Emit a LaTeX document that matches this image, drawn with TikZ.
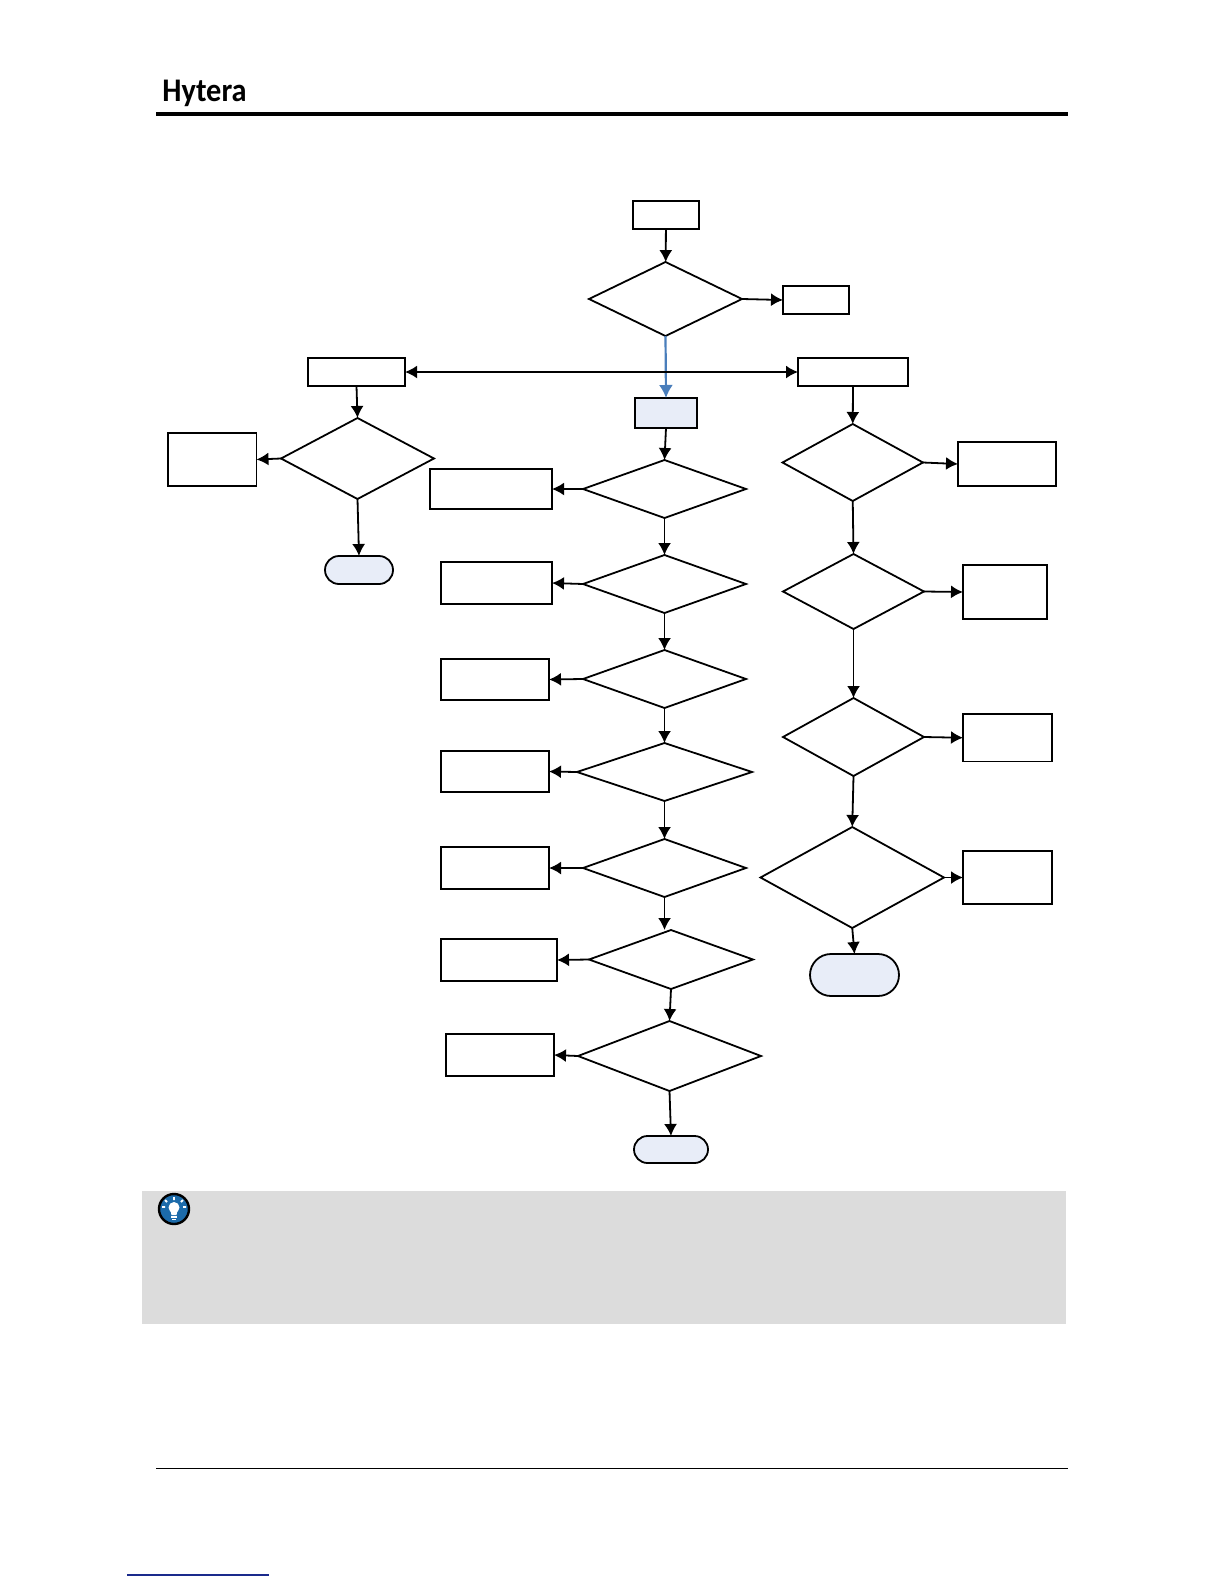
\documentclass[tikz,border=0pt]{standalone}
\usepackage{fontspec}
\setmainfont{Carlito}
\usetikzlibrary{arrows.meta,shapes.geometric,shapes.misc}
\definecolor{fillblue}{HTML}{E8EDF8}
\definecolor{arrowblue}{HTML}{4A7EBB}
\definecolor{panelgrey}{HTML}{DCDCDC}
\definecolor{iconblue}{HTML}{1C6BAA}
\definecolor{linknavy}{HTML}{1A2A8C}
\tikzset{
  boxshape/.style={rectangle,draw=black,line width=0.9pt,inner sep=0pt,outer sep=0pt},
  bluebox/.style={boxshape,fill=fillblue},
  diashape/.style={diamond,draw=black,line width=0.9pt,inner sep=0pt,outer sep=0pt},
  pillshape/.style={rounded rectangle,draw=black,line width=0.9pt,fill=fillblue,inner sep=0pt,outer sep=0pt},
  flow/.style={line width=0.9pt,-{Latex[length=6pt,width=6.5pt]}},
  flowboth/.style={line width=0.9pt,{Latex[length=6pt,width=6.5pt]}-{Latex[length=6pt,width=6.5pt]}},
  flowblue/.style={line width=1.1pt,draw=arrowblue,-{Latex[length=6.5pt,width=7pt,fill=arrowblue]}},
  panelshape/.style={rectangle,fill=panelgrey,inner sep=0pt,outer sep=0pt}
}
% #1 style, #2 name, #3 x1, #4 y1, #5 x2, #6 y2 (page pixels)
\newcommand{\placed}[6]{%
  \pgfmathsetmacro{\pw}{(#5-#3)*0.5}%
  \pgfmathsetmacro{\ph}{(#6-#4)*0.5}%
  \node[#1,minimum width=\pw pt,minimum height=\ph pt] (#2) at ({(#3+#5)/2},{(#4+#6)/2}) {};%
}
\begin{document}
\begin{tikzpicture}[x=0.5pt,y=-0.5pt]
\useasboundingbox (0,0) rectangle (1224,1584);

% header and footer
\node[anchor=base west,inner sep=0pt,xscale=0.92,font=\fontsize{16.5}{16.5}\selectfont\bfseries] (brand) at (162,101.5) {Hytera};
\draw[line width=1.6pt] (156,114) -- (1068,114);
\draw[line width=0.7pt] (156,1468.5) -- (1068,1468.5);
\draw[line width=0.7pt,linknavy] (127,1575) -- (269,1575);

% tip panel
\placed{panelshape}{tip}{142}{1191}{1066}{1323.5}
\fill[iconblue,draw=black,line width=1.2pt] (174,1209) circle (15);
\fill[white] (174,1207.5) circle (5.5);
\fill[white] (170.5,1210) -- (177.5,1210) -- (176.5,1215) -- (171.5,1215) -- cycle;
\fill[white] (171,1216) rectangle (177,1217.5);
\fill[white] (172,1218.5) rectangle (176,1220);
\draw[white,line width=0.9pt] (174,1197) -- (174,1200)
  (165,1200) -- (167,1202) (183,1200) -- (181,1202)
  (162,1207) -- (165,1207) (186,1207) -- (183,1207);

% main column
\placed{boxshape}{start}{633}{201}{699}{229}
\placed{diashape}{dtop}{589}{262}{742}{336}
\placed{boxshape}{btop}{783}{286}{849}{314}
\placed{boxshape}{bleft}{308}{358}{405}{386}
\placed{boxshape}{bright}{798}{358}{908}{386}
\placed{bluebox}{bcen}{635}{398}{697}{428}

\placed{diashape}{ca}{583}{460}{746}{518}
\placed{boxshape}{cab}{430}{469}{552}{509}
\placed{diashape}{cb}{583}{555}{746}{613}
\placed{boxshape}{cbb}{441}{562}{552}{604}
\placed{diashape}{cc}{583}{650}{746}{708}
\placed{boxshape}{ccb}{441}{659}{549}{700}
\placed{diashape}{cd}{577}{743}{752}{801}
\placed{boxshape}{cdb}{441}{751}{549}{792}
\placed{diashape}{ce}{583}{839}{746}{897}
\placed{boxshape}{ceb}{441}{847}{549}{889}
\placed{diashape}{cf}{589}{930}{753}{989}
\placed{boxshape}{cfb}{441}{939}{557}{981}
\placed{diashape}{cg}{578}{1021}{761}{1091}
\placed{boxshape}{cgb}{446}{1034}{554}{1076}
\placed{pillshape}{cend}{634}{1136}{708}{1163}

% left column
\placed{diashape}{la}{281}{418}{434}{499}
\placed{boxshape}{lab}{168}{433}{256.5}{486}
\placed{pillshape}{lend}{325}{556}{393}{584}

% right column
\placed{diashape}{ra}{782.5}{424}{923}{501}
\placed{boxshape}{rab}{958}{442}{1056}{486}
\placed{diashape}{rb}{783}{554}{924}{629}
\placed{boxshape}{rbb}{963}{565}{1047}{619}
\placed{diashape}{rc}{783}{698}{924}{776}
\placed{boxshape}{rcb}{963}{714}{1052}{761.5}
\placed{diashape}{rd}{760.5}{827}{944}{928}
\placed{boxshape}{rdb}{963}{851}{1052}{904}
\placed{pillshape}{rend}{810}{954}{899}{996}

% connectors
\draw[flow] (start) -- (dtop);
\draw[flow] (dtop.east) -- (btop.west);
\draw[flowblue] (dtop.south) -- (bcen.north);
\draw[flowboth] (bleft.east) -- (bright.west);
\draw[flow] (bcen.south) -- (ca.north);
\foreach \d/\b in {ca/cab,cb/cbb,cc/ccb,cd/cdb,ce/ceb,cf/cfb,cg/cgb,la/lab}
  \draw[flow] (\d.west) -- (\b.east);
\foreach \d/\b in {ra/rab,rb/rbb,rc/rcb,rd/rdb}
  \draw[flow] (\d.east) -- (\b.west);
\foreach \p/\q in {ca/cb,cb/cc,cc/cd,cd/ce,cf/cg,cg/cend,bleft/la,la/lend,bright/ra,ra/rb,rb/rc,rc/rd,rd/rend}
  \draw[flow] (\p.south) -- (\q.north);
\draw[flow] (ce.south) -- (ce.south |- cf.north);
\end{tikzpicture}
\end{document}
